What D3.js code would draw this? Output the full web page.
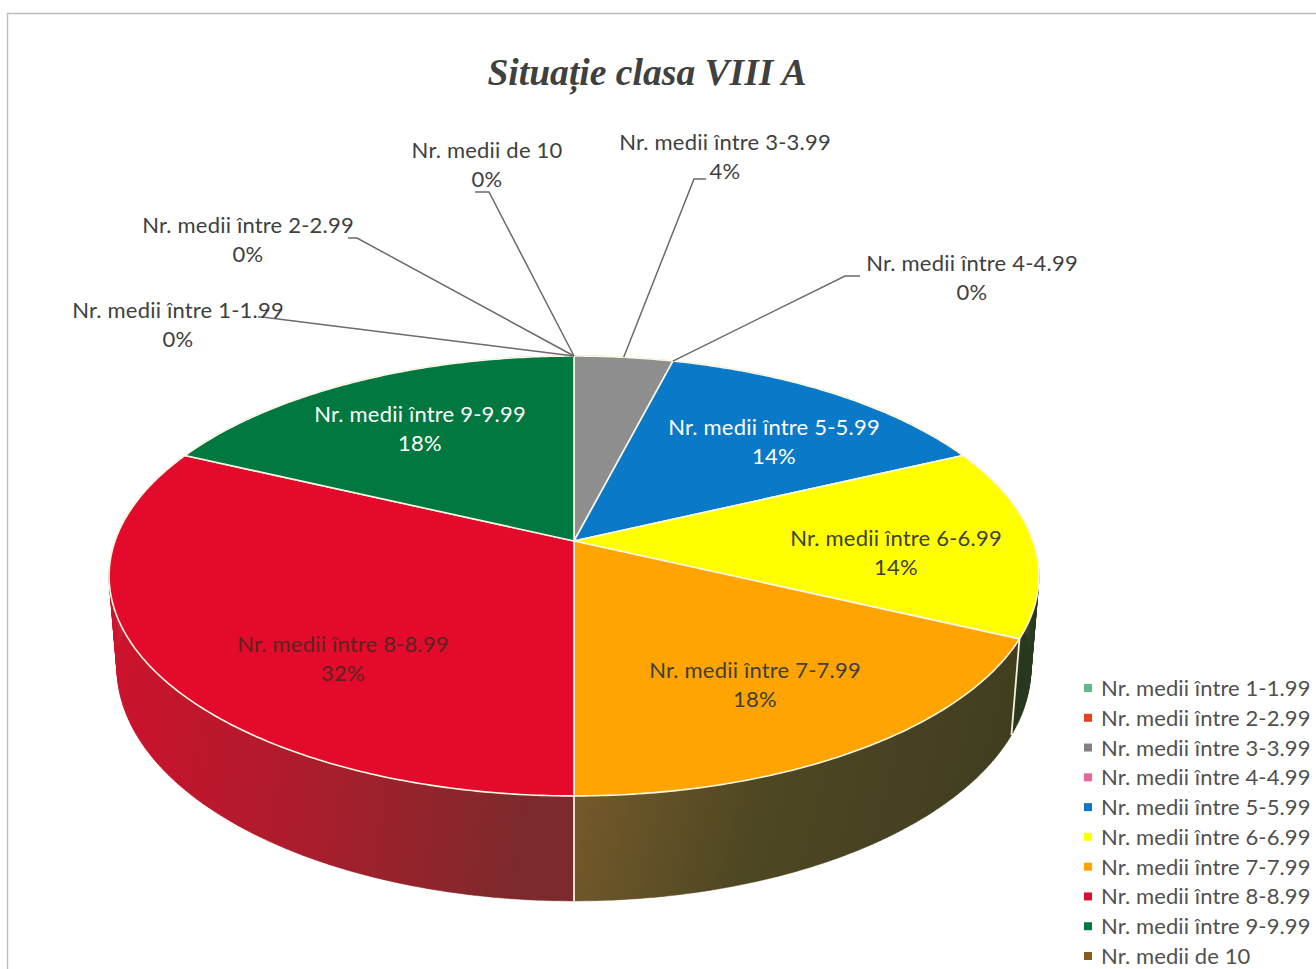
<!DOCTYPE html>
<html><head><meta charset="utf-8">
<script src="https://cdn.jsdelivr.net/npm/d3@7"></script>
<style>html,body{margin:0;background:#fff}svg{display:block}</style>
</head><body><svg id="c" width="1316" height="969"></svg>
<script>
const titleText = "Situație clasa VIII A";
const categories = ["Nr. medii între 1-1.99","Nr. medii între 2-2.99","Nr. medii între 3-3.99","Nr. medii între 4-4.99","Nr. medii între 5-5.99","Nr. medii între 6-6.99","Nr. medii între 7-7.99","Nr. medii între 8-8.99","Nr. medii între 9-9.99","Nr. medii de 10"];
const values = [0,0,2,0,7,7,9,16,9,0];
const colors = ["#5fba8a","#e5431f","#8e8e8e","#e9689b","#0a7ac8","#ffff00","#ffa400","#e40a2c","#00783f","#8a5a22"];
const legendColors = ["#5fba8a","#e5431f","#828282","#e9689b","#0a78c6","#ffff00","#ffa200","#d80f2e","#00783f","#8a5a22"];
const wallStops = {
  2:["#555555","#555555"],
  4:["#0a3a60","#0a3a60"],
  5:["#2c3c1e","#28381e"],
  6:["#7d5d2c","#4e4723","#413e20"],
  7:["#d2102c","#ae1c2c","#7c2a2c"],
  8:["#004020","#004020"]
};
const labelColors = ["#404040","#404040","#404040","#404040","#ffffff","#404040","#404040","#5a2420","#ffffff","#404040"];
// label centres (layout)
const labelX = [178,248,725,972,774,896,755,343,420,487];
const labelY = [310,225,142,263,427,538,670,644,414,150];
// leader start [x, y, elbow x] for outside labels (layout)
const leaders = {0:[258,317,262],1:[348,238,357],2:[706,179,694],3:[860,276,845],9:[475,192,489]};

const svg = d3.select("#c");
const cx=574, cy=541, R=459, S=214.4, k=0.159;
const project = a => { const u=Math.sin(a), v=-Math.cos(a), w=1-k*v; return [cx+R*u/w, cy+S*v/w]; };
const VY=5977;
const drop = p => { const dy=96+(p[1]-637)*0.0566, f=1-dy/(VY-p[1]); return [cx+(p[0]-cx)*f, p[1]+dy]; };
const pie = d3.pie().sort(null).value(d=>d);
const arcs = pie(values);
const rim = (a0,a1) => { const n=Math.max(2,Math.ceil((a1-a0)/0.01)); return d3.range(n+1).map(i=>project(a0+(a1-a0)*i/n)); };
const line = d3.line();
const total = d3.sum(values);
const pct = d3.format(".0%");

// frame
svg.append("path").attr("d","M7.5 969V13.5H1316").attr("fill","none").attr("stroke","#bdbdbd").attr("stroke-width",1.4);

// gradients + walls
const defs = svg.append("defs");
Object.keys(wallStops).forEach(i=>{ const g=defs.append("linearGradient").attr("id","w"+i).attr("x1",0).attr("y1",0).attr("x2",1).attr("y2",0.15);
  const st=wallStops[i];
  st.forEach((c,j)=>g.append("stop").attr("offset",j/(st.length-1)).attr("stop-color",c));});
const walls = arcs.filter(d=>d.value>0);
svg.append("g").selectAll("path").data(walls).join("path")
  .attr("d",d=>{const t=rim(d.startAngle,d.endAngle);
    return d3.range(t.length-1).map(j=>line([t[j],t[j+1],drop(t[j+1]),drop(t[j])])+"Z").join("");})
  .attr("fill",d=>"url(#w"+d.index+")")
  .attr("stroke",d=>"url(#w"+d.index+")").attr("stroke-width",0.5);
// separators on wall
const seps = walls.map(d=>d.endAngle).filter(a=>project(a)[1]>575);
svg.append("g").selectAll("path").data(seps).join("path")
  .attr("d",a=>{const p=project(a);return line([p,drop(p)]);}).attr("stroke","#f6f2de").attr("stroke-width",1.8).attr("fill","none");
// top faces
svg.append("g").selectAll("path").data(walls).join("path")
  .attr("d",d=>line([[cx,cy]].concat(rim(d.startAngle,d.endAngle)))+"Z")
  .attr("fill",d=>colors[d.index]).attr("stroke","#fbf8e4").attr("stroke-width",1.6).attr("stroke-linejoin","round");

// leaders
const g = svg.append("g").attr("fill","none").attr("stroke","#6a6a6a").attr("stroke-width",1.5);
Object.keys(leaders).forEach(key=>{ const i=+key, a=arcs[i], l=leaders[i];
  const p=project((a.startAngle+a.endAngle)/2);
  g.append("path").attr("d",line([[l[0],l[1]],[l[2],l[1]],p]));
});

// labels
const font="Lato, 'Open Sans', sans-serif";
const lab = svg.append("g").attr("font-family",font).attr("font-size",22).attr("letter-spacing",0.2).attr("text-anchor","middle");
categories.forEach((c,i)=>{
  const t=lab.append("g").attr("fill",labelColors[i]);
  t.append("text").attr("x",labelX[i]).attr("y",labelY[i]+8).text(c);
  t.append("text").attr("x",labelX[i]).attr("y",labelY[i]+37).text(pct(values[i]/total));
});

// title
svg.append("text").attr("x",647).attr("y",85).attr("text-anchor","middle").attr("font-family","'Liberation Serif',serif")
  .attr("font-weight","bold").attr("font-style","italic").attr("font-size",37.6).attr("fill","#404040").text(titleText);

// legend
const legendY=d3.scalePoint().domain(categories).range([688,956]);
const lg=svg.append("g").selectAll("g").data(categories).join("g").attr("transform",d=>`translate(0,${legendY(d)})`);
lg.append("rect").attr("x",1084).attr("y",-4).attr("width",8).attr("height",8).attr("fill",(d,i)=>legendColors[i]);
lg.append("text").attr("x",1101).attr("y",8).attr("font-family",font).attr("font-size",22).attr("letter-spacing",0.1).attr("fill","#505050").text(d=>d);
</script></body></html>
